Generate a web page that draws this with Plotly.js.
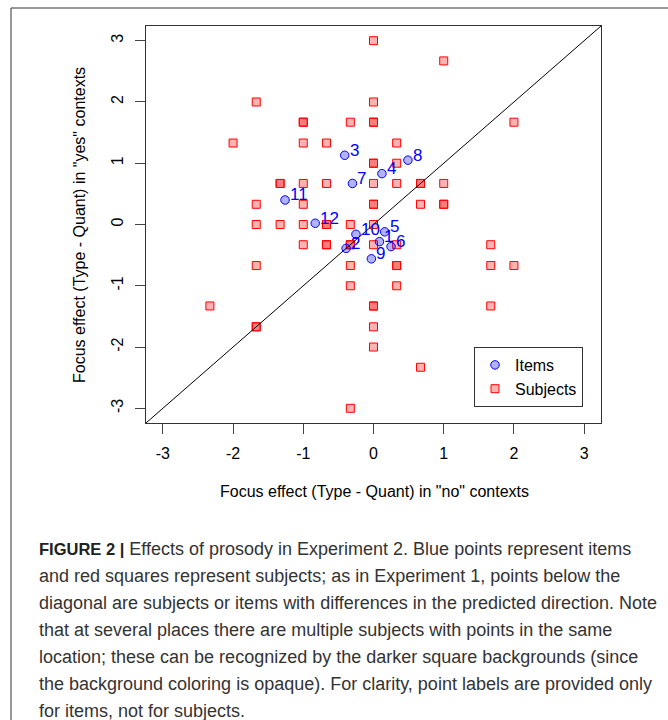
<!DOCTYPE html>
<html>
<head>
<meta charset="utf-8">
<script src="https://cdn.plot.ly/plotly-3.0.1.min.js"></script>
<style>
html,body{margin:0;padding:0;background:#fff;}
#chart{width:668px;height:720px;}
</style>
</head>
<body>
<div id="chart"></div>
<script>
// Items (blue circles), labelled 1..12
const itemLabels = ["1","2","3","4","5","6","7","8","9","10","11","12"];
const itemX = [0.085,-0.39,-0.41,0.12,0.16,0.25,-0.30,0.49,-0.03,-0.25,-1.26,-0.83];
const itemY = [-0.28,-0.39,1.13,0.83,-0.12,-0.36,0.67,1.05,-0.56,-0.16,0.40,0.02];

// Subjects (red squares); repeated entries = several subjects at one location
const subjX = [0,1,-1.67,0,-1,-1,-0.33,0,0,2,
  -2,-1,-0.67,0.33,0,0,0.33,-1.33,-1.33,-1,
  -0.67,0,0.33,0.67,0.67,1,-1.67,-1,0,0,
  0.67,1,1,-1.67,-1.33,-1,-0.67,-0.67,-0.33,0,
  -1,-0.67,-0.67,-0.33,-0.33,0,0.33,1.67,-1.67,-0.33,
  0.33,0.33,1.67,2,-0.33,0.33,-2.33,0,0,1.67,
  -1.67,-1.67,0,0,0.67,-0.33];
const subjY = [3,2.67,2,2,1.67,1.67,1.67,1.67,1.67,1.67,
  1.33,1.33,1.33,1.33,1,1,1,0.67,0.67,0.67,
  0.67,0.67,0.67,0.67,0.67,0.67,0.33,0.33,0.33,0.33,
  0.33,0.33,0.33,0,0,0,0,0,0,0,
  -0.33,-0.33,-0.33,-0.33,-0.33,-0.33,-0.33,-0.33,-0.67,-0.67,
  -0.67,-0.67,-0.67,-0.67,-1,-1,-1.33,-1.33,-1.33,-1.33,
  -1.67,-1.67,-1.67,-2,-2.33,-3];

const tickVals = [-3,-2,-1,0,1,2,3];
const tickText = ["-3","-2","-1","0","1","2","3"];
const axisRange = [-3.24,3.24];

const xTitle = 'Focus effect (Type - Quant) in "no" contexts';
const yTitle = 'Focus effect (Type - Quant) in "yes" contexts';
const captionBold = 'FIGURE 2 |';
const captionLines = [
  'Effects of prosody in Experiment 2. Blue points represent items',
  'and red squares represent subjects; as in Experiment 1, points below the',
  'diagonal are subjects or items with differences in the predicted direction. Note',
  'that at several places there are multiple subjects with points in the same',
  'location; these can be recognized by the darker square backgrounds (since',
  'the background coloring is opaque). For clarity, point labels are provided only',
  'for items, not for subjects.'
];

const W = 668, H = 720;
const M = {l:146, r:67, t:26, b:297};
const pw = W - M.l - M.r, ph = H - M.t - M.b;
const px = v => (v - M.l) / pw;          // pixel -> paper x
const py = v => (H - M.b - v) / ph;      // pixel -> paper y

const FONT = 'Liberation Sans, Arial, sans-serif';

const itemsTrace = {
  type:'scatter', mode:'markers', name:'Items',
  x:itemX, y:itemY, legendrank:1,
  marker:{symbol:'circle', size:8.5, color:'rgba(0,0,255,0.3)', line:{color:'#0000ff', width:1}},
  hoverinfo:'skip'
};
const subjTrace = {
  type:'scatter', mode:'markers', name:'Subjects',
  x:subjX, y:subjY, legendrank:2,
  marker:{symbol:'square', size:8, color:'rgba(255,0,0,0.3)', line:{color:'#ff0000', width:1}},
  hoverinfo:'skip'
};
const data = [subjTrace, itemsTrace];

const annotations = itemLabels.map((t,i)=>({
  x:itemX[i], y:itemY[i], xref:'x', yref:'y', text:t, showarrow:false,
  xanchor:'left', yanchor:'middle', xshift:3, yshift:5,
  font:{family:FONT, size:17, color:'#0000ff'}
}));

annotations.push({
  xref:'paper', yref:'paper', x:px(374), y:py(491), text:xTitle, showarrow:false,
  xanchor:'center', yanchor:'middle', font:{family:FONT, size:16, color:'#000'}
});
annotations.push({
  xref:'paper', yref:'paper', x:px(80), y:py(225), text:yTitle, showarrow:false, textangle:-90,
  xanchor:'center', yanchor:'middle', font:{family:FONT, size:16, color:'#000'}
});

const capY0 = 549, capDy = 27;
captionLines.forEach((t,i)=>{
  const txt = i === 0
    ? '<b><span style="font-size:16.5px;color:#222">' + captionBold + '</span></b> ' + t
    : t;
  annotations.push({
    xref:'paper', yref:'paper', x:px(37), y:py(capY0 + i*capDy), text:txt, showarrow:false,
    xanchor:'left', yanchor:'middle', font:{family:FONT, size:18, color:'#333'}
  });
});

const shapes = [
  {type:'line', xref:'x', yref:'y', x0:axisRange[0], y0:axisRange[0], x1:axisRange[1], y1:axisRange[1],
   line:{color:'#000', width:1}, layer:'above'},
  {type:'line', xref:'paper', yref:'paper', x0:px(11), y0:py(8), x1:px(11), y1:py(720), line:{color:'#333', width:1}},
  {type:'line', xref:'paper', yref:'paper', x0:px(11), y0:py(8), x1:px(668), y1:py(8), line:{color:'#333', width:1}}
];

const axisCommon = {
  range:axisRange, tickmode:'array', tickvals:tickVals, ticktext:tickText,
  ticks:'outside', ticklen:10, tickcolor:'#444', tickwidth:1, ticklabelstandoff:6,
  showgrid:false, zeroline:false, showline:true, linecolor:'#333', linewidth:1, mirror:true,
  tickfont:{family:FONT, size:16, color:'#000'}, fixedrange:true
};

const layout = {
  width:W, height:H, margin:M,
  paper_bgcolor:'#fff', plot_bgcolor:'#fff',
  xaxis:Object.assign({}, axisCommon),
  yaxis:Object.assign({}, axisCommon, {tickangle:-90}),
  showlegend:true,
  legend:{x:px(474), y:py(347), xanchor:'left', yanchor:'top', bgcolor:'#fff',
    bordercolor:'#333', borderwidth:1, font:{family:FONT, size:16, color:'#000'},
    traceorder:'normal'},
  annotations:annotations, shapes:shapes
};

Plotly.newPlot('chart', data, layout, {staticPlot:true});
</script>
</body>
</html>
